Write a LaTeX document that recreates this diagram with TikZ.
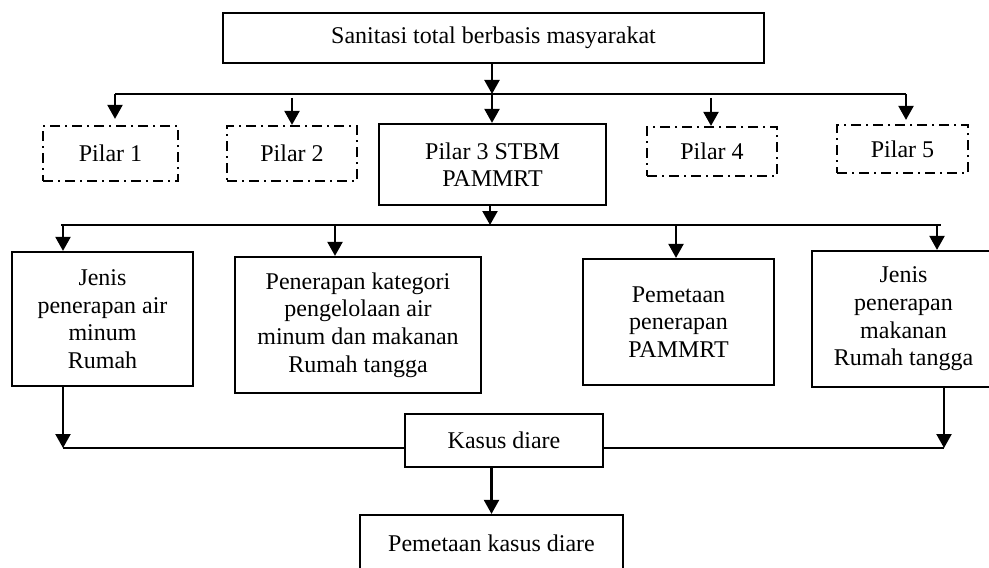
\documentclass[tikz,border=0pt]{standalone}
\usepackage{fontspec}
\setmainfont{Liberation Serif}
\usetikzlibrary{arrows.meta,positioning}
\tikzset{
  box/.style={draw,line width=1.1pt,align=center,inner sep=2pt,
    font=\fontsize{12}{13.8}\selectfont},
  bdash/.style={box,dash pattern=on 5pt off 2.5pt on 1pt off 2.5pt},
  flow/.style={-{Triangle[length=7pt,width=7.5pt]},line width=1.1pt},
  link/.style={line width=1.1pt},
}

\begin{document}
\begin{tikzpicture}[x=0.5pt,y=-0.5pt]
  \useasboundingbox (0,0) rectangle (989,567);
  \clip (0,0) rectangle (989,567);

  \node[box,minimum width=270.5pt,minimum height=25pt] (stbm) at (493.5,38)
    {Sanitasi total berbasis masyarakat};

  \node[bdash,minimum width=67.5pt,minimum height=27.5pt] (pilar1) at (110.5,153.5) {Pilar 1};
  \node[bdash,minimum width=65pt,minimum height=27.5pt] (pilar2) at (292,153.5) {Pilar 2};
  \node[box,minimum width=113.5pt,minimum height=40.5pt] (pilar3) at (492.5,164.5)
    {Pilar 3 STBM\\ PAMMRT};
  \node[bdash,minimum width=65pt,minimum height=24.5pt] (pilar4) at (712,151.5) {Pilar 4};
  \node[bdash,minimum width=65.5pt,minimum height=24pt] (pilar5) at (902.5,149) {Pilar 5};

  \node[box,minimum width=90.5pt,minimum height=67pt] (jenisair) at (102.5,319)
    {Jenis\\ penerapan air\\ minum\\ Rumah};
  \node[box,minimum width=123pt,minimum height=68pt] (kategori) at (358,325)
    {Penerapan kategori\\ pengelolaan air\\ minum dan makanan\\ Rumah tangga};
  \node[box,minimum width=95.5pt,minimum height=63pt] (pemetaan) at (678.5,322)
    {Pemetaan\\ penerapan\\ PAMMRT};
  \node[box,minimum width=91.5pt,minimum height=68pt] (jenismakan) at (903.5,319)
    {Jenis\\ penerapan\\ makanan\\ Rumah tangga};

  \node[box,minimum width=99pt,minimum height=26.5pt] (kasus) at (504,440.5) {Kasus diare};
  \node[box,minimum width=131.5pt,minimum height=28pt] (petakasus) at (491.5,543)
    {Pemetaan kasus diare};

  % upper branch
  \coordinate (b1) at (115,94);
  \coordinate (b2) at (292,98);
  \coordinate (b3) at (492,94);
  \coordinate (b4) at (711,98);
  \coordinate (b5) at (906,94);
  \draw[flow] (stbm.south -| b3) -- (b3);
  \draw[link] (b1) -- (b5);
  \draw[flow,shorten >=3pt] (b1) -- (pilar1.north -| b1);
  \draw[flow] (b2) -- (pilar2.north -| b2);
  \draw[flow] (b3) -- (pilar3.north -| b3);
  \draw[flow] (b4) -- (pilar4.north -| b4);
  \draw[flow,shorten >=2pt] (b5) -- (pilar5.north -| b5);

  % lower branch
  \coordinate (c1) at (63,225);
  \coordinate (c2) at (335,225);
  \coordinate (c3) at (490,225);
  \coordinate (c4) at (676,225);
  \coordinate (c5) at (937,225);
  \draw[flow] (pilar3.south -| c3) -- (c3);
  \draw[link] ([xshift=-1]c1) -- ([xshift=2]c5);
  \draw[flow] (c1) -- (jenisair.north -| c1);
  \draw[flow] (c2) -- (kategori.north -| c2);
  \draw[flow] (c4) -- (pemetaan.north -| c4);
  \draw[flow] (c5) -- (jenismakan.north -| c5);

  % into kasus diare
  \coordinate (ka) at (63,448);
  \coordinate (kb) at (944,448);
  \draw[flow] (jenisair.south -| ka) -- (ka);
  \draw[flow] (jenismakan.south -| kb) -- (kb);
  \draw[link] (ka) -- (ka -| kasus.west);
  \draw[link] (kasus.east |- kb) -- (kb);
  \draw[flow] (kasus.south -| petakasus) -- (petakasus);
\end{tikzpicture}
\end{document}
